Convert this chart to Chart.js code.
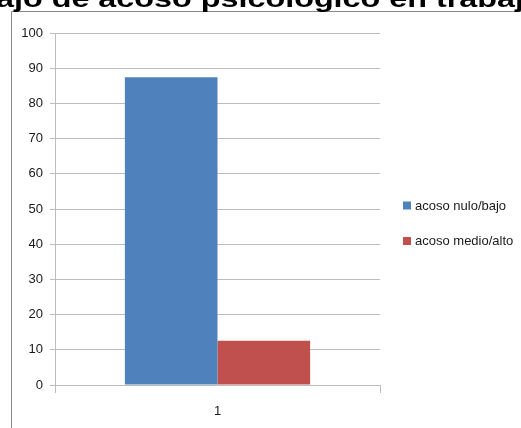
<!DOCTYPE html>
<html>
<head>
<meta charset="utf-8">
<script src="https://cdn.jsdelivr.net/npm/chart.js@4"></script>
<style>
  html, body { margin: 0; padding: 0; background: #fff; }
  #wrap { width: 521px; height: 428px; position: relative; overflow: hidden; }
</style>
</head>
<body>
<div id="wrap"><canvas id="grafico" width="521" height="428"></canvas></div>
<script>
// datos del gráfico
const categorias = ['1'];
const series = ['acoso nulo/bajo', 'acoso medio/alto'];
const valoresNuloBajo = [87.4];
const valoresMedioAlto = [12.6];
const ticksY = [0, 10, 20, 30, 40, 50, 60, 70, 80, 90, 100];
const titulo = 'ajo de acoso psicológico en trabaj';

const colores = ['#4f81bd', '#c0504d'];
const gris = '#bdbdbd';

// marco, título y leyenda dibujados a mano
const extras = {
    id: 'extras',
    beforeDraw(chart) {
        const ctx = chart.ctx;
        ctx.save();
        ctx.fillStyle = '#fff';
        ctx.fillRect(0, 0, chart.width, chart.height);
        ctx.strokeStyle = '#8a8a8a';
        ctx.lineWidth = 1;
        ctx.beginPath();
        ctx.moveTo(11.5, chart.height);
        ctx.lineTo(11.5, 11.5);
        ctx.lineTo(chart.width, 11.5);
        ctx.stroke();
        ctx.restore();
    },
    afterDraw(chart) {
        const ctx = chart.ctx;
        ctx.save();
        // título (recortado arriba)
        ctx.font = 'bold 24px "Liberation Sans", Arial, sans-serif';
        ctx.fillStyle = '#000';
        ctx.textBaseline = 'alphabetic';
        const w = ctx.measureText(titulo).width;
        const sx = 528 / w;
        ctx.translate(-4, 0);
        ctx.scale(sx, 1);
        ctx.fillText(titulo, 0, 7);
        ctx.restore();

        // leyenda
        ctx.save();
        ctx.font = '13px "Liberation Sans", Arial, sans-serif';
        ctx.textBaseline = 'middle';
        const ys = [205.5, 241];
        chart.data.datasets.forEach((ds, i) => {
            ctx.fillStyle = ds.backgroundColor;
            ctx.fillRect(403, ys[i] - 4, 8, 8);
            ctx.fillStyle = '#1a1a1a';
            ctx.fillText(ds.label, 415, ys[i] + 0.5);
        });
        ctx.restore();
    }
};

const ctx = document.getElementById('grafico').getContext('2d');
new Chart(ctx, {
    type: 'bar',
    data: {
        labels: categorias,
        datasets: [
            { label: series[0], data: valoresNuloBajo, backgroundColor: colores[0] },
            { label: series[1], data: valoresMedioAlto, backgroundColor: colores[1] }
        ]
    },
    options: {
        responsive: false,
        animation: false,
        devicePixelRatio: 1,
        layout: { padding: { top: 33, right: 141, left: 0, bottom: 0 } },
        datasets: {
            bar: { barPercentage: 1, categoryPercentage: 0.57 }
        },
        plugins: {
            legend: { display: false },
            title: { display: false },
            tooltip: { enabled: false }
        },
        scales: {
            x: {
                offset: true,
                afterFit: (s) => { s.height = 43; },
                grid: { drawOnChartArea: false, drawTicks: true, tickLength: 8, color: gris },
                border: { display: true, color: gris },
                ticks: {
                    color: '#1a1a1a',
                    padding: 11,
                    font: { family: '"Liberation Sans", Arial, sans-serif', size: 13 }
                }
            },
            y: {
                min: ticksY[0],
                max: ticksY[ticksY.length - 1],
                afterFit: (s) => { s.width = 55; },
                afterBuildTicks: (s) => { s.ticks = ticksY.map(v => ({ value: v })); },
                grid: { color: gris, tickLength: 5 },
                border: { display: true, color: gris },
                ticks: {
                    color: '#1a1a1a',
                    padding: 7,
                    font: { family: '"Liberation Sans", Arial, sans-serif', size: 13 }
                }
            }
        }
    },
    plugins: [extras]
});
</script>
</body>
</html>
